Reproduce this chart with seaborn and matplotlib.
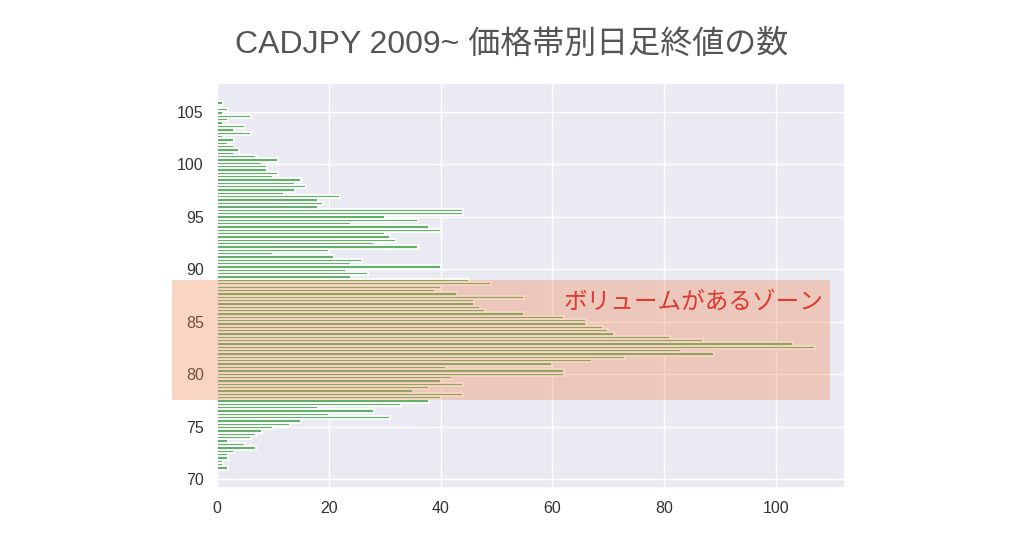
import numpy as np
import pandas as pd
import matplotlib
matplotlib.use("Agg")
import matplotlib.pyplot as plt
import seaborn as sns
from matplotlib.patches import Rectangle

# ---- data: daily-close counts per price band (bottom band first) ----
price_low = 70.9
price_high = 106.0
counts = [
    2, 1, 1, 2, 2, 3, 7, 5, 2, 6,
    7, 8, 10, 13, 15, 31, 20, 28, 18, 33,
    38, 40, 44, 35, 38, 44, 40, 42, 62, 62,
    41, 60, 67, 73, 89, 83, 107, 103, 87, 81,
    71, 70, 69, 66, 66, 62, 55, 48, 47, 46,
    46, 55, 43, 39, 40, 49, 45, 24, 27, 23,
    40, 24, 26, 21, 10, 20, 36, 28, 32, 31,
    30, 40, 38, 24, 36, 30, 44, 44, 18, 19,
    18, 22, 12, 14, 16, 14, 15, 10, 11, 9,
    9, 8, 11, 7, 3, 4, 3, 2, 3, 1,
    6, 3, 5, 1, 2, 6, 1, 2, 0, 1,
]
x_ticks = [0, 20, 40, 60, 80, 100]
y_ticks = [70, 75, 80, 85, 90, 95, 100, 105]
zone_low, zone_high = 77.5, 89.0
title = "CADJPY 2009~ 価格帯別日足終値の数"
zone_label = "ボリュームがあるゾーン"

n_bins = len(counts)
edges = np.linspace(price_low, price_high, n_bins + 1)
centers = (edges[:-1] + edges[1:]) / 2
df = pd.DataFrame({"price": centers, "count": counts})

sns.set_theme(style="darkgrid")
plt.rcParams["font.family"] = ["Liberation Sans", "Noto Sans CJK JP", "DejaVu Sans"]

fig = plt.figure(figsize=(10.24, 5.36), dpi=100)
ax = fig.add_axes([217 / 1024, 1 - 488 / 536, (845 - 217) / 1024, (488 - 83) / 536])

sns.histplot(data=df, y="price", weights="count", bins=n_bins,
             binrange=(price_low, price_high), ax=ax,
             color="#63b06b", edgecolor="white", linewidth=1.3, alpha=1.0)

ax.set_xlabel("")
ax.set_ylabel("")
ax.set_xticks(x_ticks)
ax.set_yticks(y_ticks)
ax.tick_params(axis="both", labelsize=11.5, labelcolor="#333333")
ax.set_xlim(0, max(counts) * 1.05)
span = price_high - price_low
ax.set_ylim(price_low - 0.05 * span, price_high + 0.05 * span)

rect = Rectangle((-8.1, zone_low), 117.8, zone_high - zone_low,
                 facecolor="#ee8a55", alpha=0.35, edgecolor="none",
                 clip_on=False, zorder=5, transform=ax.transData)
ax.add_patch(rect)

ax.text(62, 86.9, zone_label, color="#e0392f", fontsize=17,
        ha="left", va="center", zorder=6,
        family=["Noto Sans CJK JP", "DejaVu Sans"])

fig.text(0.5, 1 - 45 / 536, title, ha="center", va="center",
         fontsize=23, color="#555555",
         family=["Liberation Sans", "Noto Sans CJK JP", "DejaVu Sans"])

fig.savefig("out.png", dpi=100)
